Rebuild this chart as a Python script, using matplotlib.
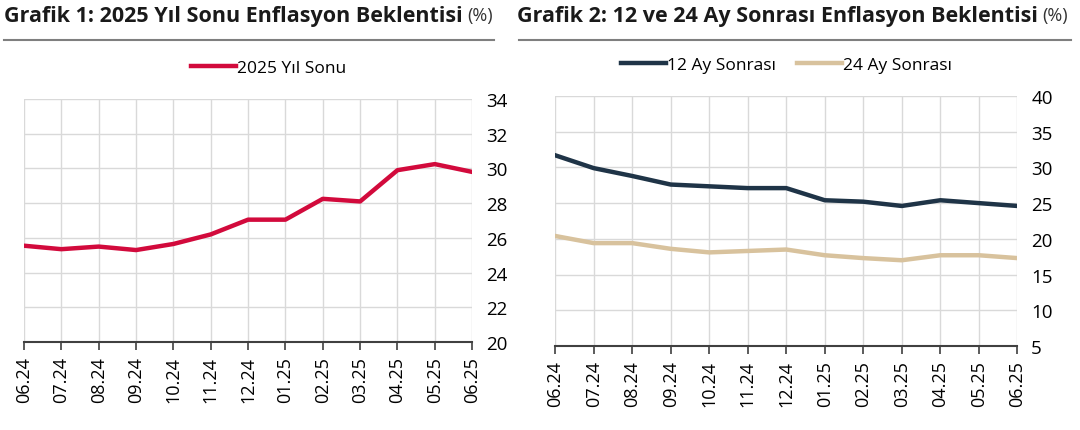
import numpy as np
import matplotlib
matplotlib.use('Agg')
import matplotlib.pyplot as plt
from matplotlib.lines import Line2D

plt.rcParams['font.family'] = ['Open Sans', 'DejaVu Sans']

#%% Data
months = ["06.24", "07.24", "08.24", "09.24", "10.24", "11.24", "12.24",
          "01.25", "02.25", "03.25", "04.25", "05.25", "06.25"]
yil_sonu_2025 = [25.55, 25.35, 25.5, 25.3, 25.65, 26.2, 27.05, 27.05, 28.25, 28.1, 29.9, 30.25, 29.8]
ay12_sonrasi = [31.7, 29.9, 28.8, 27.6, 27.35, 27.1, 27.1, 25.4, 25.2, 24.6, 25.4, 25.0, 24.6]
ay24_sonrasi = [20.4, 19.4, 19.4, 18.6, 18.1, 18.3, 18.5, 17.7, 17.3, 17.0, 17.7, 17.7, 17.3]

RED = '#d20a3c'
NAVY = '#1f3447'
BEIGE = '#d8c29d'
GRID = '#d9d9d9'

#%% Figure
fig = plt.figure(figsize=(10.8, 4.31), dpi=100)
ax1 = fig.add_axes([0.0222, 0.204, 0.415, 0.564])
ax2 = fig.add_axes([0.514, 0.195, 0.428, 0.580])

x = np.arange(len(months))


def style_axis(ax, ylim, yticks):
    ax.set_xlim(0, len(months) - 1)
    ax.set_ylim(*ylim)
    ax.set_yticks(yticks)
    ax.set_xticks(x)
    ax.set_xticklabels(months, rotation=90, fontsize=13)
    ax.yaxis.tick_right()
    ax.tick_params(axis='y', length=0, labelsize=13.5, pad=10)
    ax.tick_params(axis='x', length=6, width=1.2, color='#404040', direction='out', pad=4)
    ax.grid(True, color=GRID, linewidth=1)
    for side in ['left', 'top', 'right']:
        ax.spines[side].set_visible(False)
    ax.spines['bottom'].set_color('#404040')
    ax.spines['bottom'].set_linewidth(1.5)
    ax.set_axisbelow(True)


# Chart 1
ax1.plot(x, yil_sonu_2025, color=RED, linewidth=3.2, label="2025 Yıl Sonu")
style_axis(ax1, (20, 34), np.arange(20, 35, 2))
ax1.legend(loc='lower center', bbox_to_anchor=(0.545, 1.03), frameon=False, fontsize=12.5,
           handlelength=2.6, handletextpad=0.05)

# Chart 2
ax2.plot(x, ay12_sonrasi, color=NAVY, linewidth=3.2, label="12 Ay Sonrası")
ax2.plot(x, ay24_sonrasi, color=BEIGE, linewidth=3.2, label="24 Ay Sonrası")
style_axis(ax2, (5, 40), np.arange(5, 41, 5))
ax2.legend(loc='lower center', bbox_to_anchor=(0.5, 1.03), frameon=False, fontsize=12.5,
           ncol=2, handlelength=2.6, handletextpad=0.05, columnspacing=1.2)

#%% Titles
t1 = fig.text(0.004, 0.962, "Grafik 1: 2025 Yıl Sonu Enflasyon Beklentisi", fontsize=15.5,
              fontweight='bold', va='center', ha='left', color='#1a1a1a')
t2 = fig.text(0.479, 0.962, "Grafik 2: 12 ve 24 Ay Sonrası Enflasyon Beklentisi", fontsize=15.5,
              fontweight='bold', va='center', ha='left', color='#1a1a1a')
for t in (t1, t2):
    ax1.annotate("(%)", xy=(1, 0.5), xycoords=t, xytext=(3, 0), textcoords='offset points',
                 fontsize=13, color='#333333', va='center', ha='left', annotation_clip=False)

fig.add_artist(Line2D([0.004, 0.457], [0.905, 0.905], color='#7f7f7f', linewidth=1.5))
fig.add_artist(Line2D([0.481, 0.992], [0.905, 0.905], color='#7f7f7f', linewidth=1.5))

fig.savefig('out.png', dpi=100)
